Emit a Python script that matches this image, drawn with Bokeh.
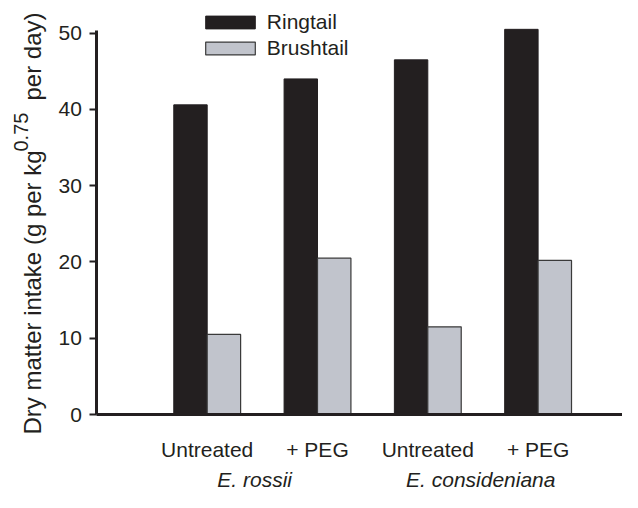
import math
from bokeh.plotting import figure
from bokeh.models import (ColumnDataSource, Range1d, FixedTicker, Label, Legend, LegendItem)
from bokeh.embed import file_html
from bokeh.resources import INLINE

# ---- data ----
treatments = ["Untreated", "+ PEG", "Untreated", "+ PEG"]
species = ["E. rossii", "E. consideniana"]
ringtail = [40.6, 44.0, 46.5, 50.5]
brushtail = [10.5, 20.5, 11.5, 20.2]
y_ticks = [0, 10, 20, 30, 40, 50]

positions = list(range(1, len(treatments) + 1))
half = 0.1515
src = ColumnDataSource(dict(
    xr=[x - half for x in positions], xb=[x + half for x in positions],
    ringtail=ringtail, brushtail=brushtail))

FONT = "Liberation Sans"
INK = "#231f20"

W, H = 622, 492
X0_PX, PX_X = 96.4, 110.3      # pixel of x=0, pixels per x unit
Y0_PX, PX_Y = 414.0, 7.627     # pixel of y=0, pixels per y unit

p = figure(width=W, height=H, output_backend="svg", toolbar_location=None,
           x_range=Range1d(-X0_PX / PX_X, (W - X0_PX) / PX_X),
           y_range=Range1d(-(H - Y0_PX) / PX_Y, Y0_PX / PX_Y),
           min_border=0)
p.outline_line_color = None
p.xgrid.visible = False
p.ygrid.visible = False
p.background_fill_color = "white"

r1 = p.vbar(x="xr", top="ringtail", width=2 * half, source=src,
            fill_color=INK, line_color=INK, line_width=1)
r2 = p.vbar(x="xb", top="brushtail", width=2 * half, source=src,
            fill_color="#c1c4cc", line_color="#3a3a3a", line_width=1.2)

# y axis
ya = p.yaxis[0]
ya.fixed_location = 0
ya.ticker = FixedTicker(ticks=y_ticks)
ya.bounds = (0, 50.3)
ya.axis_line_width = 3
ya.axis_line_color = INK
ya.major_tick_line_width = 2
ya.major_tick_line_color = INK
ya.major_tick_out = 7
ya.major_tick_in = 0
ya.minor_tick_line_color = None
ya.major_label_standoff = 8
ya.major_label_text_font = FONT
ya.major_label_text_font_size = "21px"
ya.major_label_text_color = INK

# x axis
xa = p.xaxis[0]
xa.fixed_location = 0
xa.ticker = FixedTicker(ticks=positions)
xa.bounds = (0, 10)
xa.major_label_overrides = {pos: t for pos, t in zip(positions, treatments)}
xa.axis_line_width = 3
xa.axis_line_color = INK
xa.major_tick_line_color = None
xa.minor_tick_line_color = None
xa.major_label_standoff = 17
xa.major_label_text_font = FONT
xa.major_label_text_font_size = "21px"
xa.major_label_text_color = INK

# species labels
for name, xpos in zip(species, [1.43, 3.48]):
    p.add_layout(Label(x=xpos, y=13, x_units="data", y_units="screen", text=name,
                       text_font=FONT, text_font_size="21px", text_font_style="italic",
                       text_color=INK, text_align="center", text_baseline="middle"))

# y axis title (with superscript)
common = dict(x_units="screen", y_units="screen", angle=math.pi / 2,
              text_font=FONT, text_color=INK, text_align="left", text_baseline="middle")
p.add_layout(Label(x=31.5, y=H - 434, text="Dry matter intake (g per kg", text_font_size="24px", **common))
p.add_layout(Label(x=20.5, y=H - 151, text="0.75", text_font_size="20px", **common))
p.add_layout(Label(x=31.5, y=H - 100, text="per day)", text_font_size="24px", **common))

legend = Legend(items=[LegendItem(label="Ringtail", renderers=[r1]),
                       LegendItem(label="Brushtail", renderers=[r2])],
                location=(198.8, H - 60.5), glyph_width=62, glyph_height=16,
                label_standoff=6, spacing=0, padding=0, margin=0,
                border_line_color=None, background_fill_alpha=0,
                label_text_font=FONT, label_text_font_size="21px",
                label_text_color=INK, label_height=26)
p.add_layout(legend)

open("out.html", "w").write(file_html(p, INLINE))
